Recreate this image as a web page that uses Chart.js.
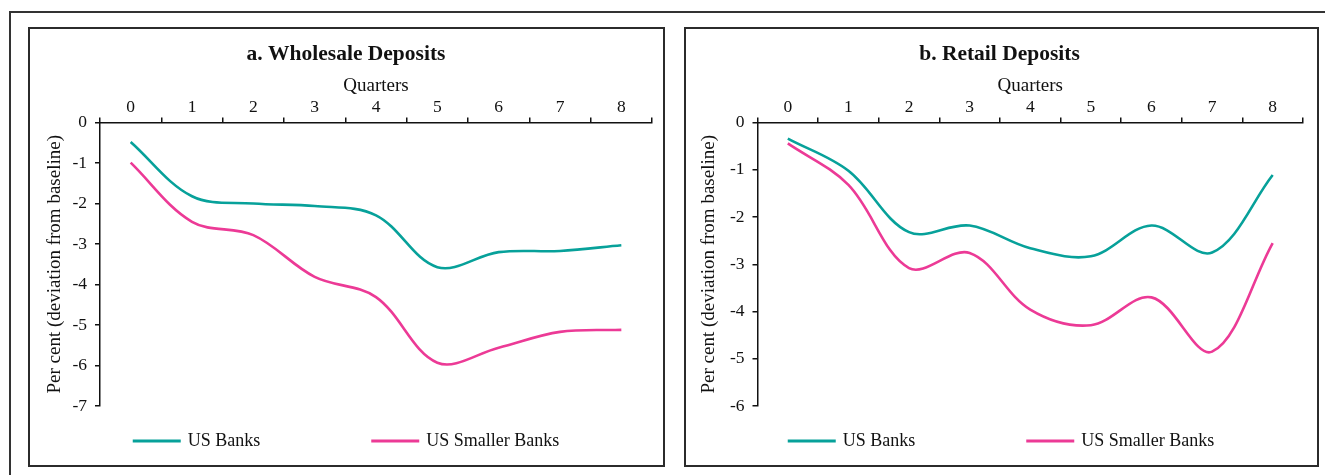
<!DOCTYPE html>
<html>
<head>
<meta charset="utf-8">
<script src="https://cdn.jsdelivr.net/npm/chart.js@4/dist/chart.umd.min.js"></script>
<style>
  html, body { margin: 0; padding: 0; background: #fff; }
  body { width: 1325px; height: 475px; position: relative; overflow: hidden; }
  .frame { position: absolute; left: 9px; top: 11px; width: 1400px; height: 520px; border: 2px solid #333; box-sizing: border-box; }
  .panel { position: absolute; border: 2px solid #2b2b2b; box-sizing: border-box; background: #fff; }
  canvas { position: absolute; }
</style>
</head>
<body>
<div class="frame"></div>
<div class="panel" style="left:28px; top:27px; width:637px; height:440px;"></div>
<div class="panel" style="left:684px; top:27px; width:635px; height:440px;"></div>
<canvas id="wholesale" width="632" height="436" style="left:30px; top:29px;"></canvas>
<canvas id="retail" width="630" height="436" style="left:686px; top:29px;"></canvas>
<script>
// Quarters after the shock
const quarters = ['0', '1', '2', '3', '4', '5', '6', '7', '8'];
const seriesNames = ['US Banks', 'US Smaller Banks'];

// a. Wholesale deposits, per cent deviation from baseline
const wholesaleUSBanks = [-0.48, -1.82, -2.0, -2.06, -2.29, -3.57, -3.2, -3.17, -3.03];
const wholesaleSmallerBanks = [-0.99, -2.45, -2.78, -3.81, -4.31, -5.93, -5.56, -5.17, -5.12];

// b. Retail deposits, per cent deviation from baseline
const retailUSBanks = [-0.34, -1.02, -2.32, -2.18, -2.66, -2.83, -2.18, -2.75, -1.11];
const retailSmallerBanks = [-0.44, -1.32, -3.08, -2.76, -3.96, -4.29, -3.70, -4.85, -2.55];

const FONT = '"Liberation Serif", "Times New Roman", serif';
const INK = '#111';
const TEAL = '#07a19a';
const PINK = '#ec3a96';

// Legend drawn under the plot: line swatch + label, items centred on the canvas
const lineLegend = {
  id: 'lineLegend',
  afterDraw(chart, args, opts) {
    const ctx = chart.ctx;
    const sets = chart.data.datasets;
    const swatch = 48, gapText = 7, gapItem = 111;
    ctx.save();
    ctx.font = '18px ' + FONT;
    const widths = sets.map(d => swatch + gapText + ctx.measureText(d.label).width);
    const total = widths.reduce((a, b) => a + b, 0) + gapItem * (sets.length - 1);
    let x = (chart.width - total) / 2;
    const y = opts.y;
    sets.forEach((d, i) => {
      ctx.strokeStyle = d.borderColor;
      ctx.lineWidth = 3;
      ctx.beginPath();
      ctx.moveTo(x, y);
      ctx.lineTo(x + swatch, y);
      ctx.stroke();
      ctx.fillStyle = INK;
      ctx.textAlign = 'left';
      ctx.textBaseline = 'middle';
      ctx.fillText(d.label, x + swatch + gapText, y);
      x += widths[i] + gapItem;
    });
    ctx.restore();
  }
};

function makePanel(id, title, usData, smallData, yMin, g) {
  const axisGrid = { drawOnChartArea: false, drawTicks: true, tickLength: 5, color: INK, lineWidth: 1.5 };
  const axisBorder = { display: true, color: INK, width: 1.5 };
  return new Chart(document.getElementById(id), {
    type: 'line',
    data: {
      labels: quarters,
      datasets: [
        { label: seriesNames[0], data: usData, borderColor: TEAL, backgroundColor: TEAL },
        { label: seriesNames[1], data: smallData, borderColor: PINK, backgroundColor: PINK }
      ]
    },
    options: {
      responsive: false,
      animation: false,
      layout: { padding: { left: g.padL, right: g.padR, top: 0, bottom: 59 } },
      elements: {
        point: { radius: 0 },
        line: { tension: 0.35, borderWidth: 2.6, fill: false }
      },
      plugins: {
        legend: { display: false },
        tooltip: { enabled: false },
        title: {
          display: true,
          text: title,
          color: INK,
          font: { family: FONT, size: 21.5, weight: 'bold' },
          padding: { top: 13, bottom: 3 }
        },
        lineLegend: { y: 412 }
      },
      scales: {
        x: {
          type: 'category',
          position: 'top',
          offset: true,
          grid: Object.assign({ offset: true }, axisGrid),
          border: axisBorder,
          ticks: { padding: 0, color: INK, font: { family: FONT, size: 17.5 }, maxRotation: 0, autoSkip: false },
          title: { display: true, text: 'Quarters', color: INK, font: { family: FONT, size: 19 }, padding: { top: 4, bottom: 0 } },
          afterFit: s => { s.height = 51.8; }
        },
        y: {
          min: yMin,
          max: 0,
          grid: axisGrid,
          border: axisBorder,
          ticks: { stepSize: 1, padding: 8, color: INK, font: { family: FONT, size: 17.5 } },
          title: {
            display: true,
            text: 'Per cent (deviation from baseline)',
            color: INK,
            font: { family: FONT, size: 19 },
            padding: { top: g.yTitlePad, bottom: 0 }
          },
          afterFit: s => { s.width = g.yWidth; }
        }
      }
    },
    plugins: [lineLegend]
  });
}

makePanel('wholesale', 'a. Wholesale Deposits', wholesaleUSBanks, wholesaleSmallerBanks, -7,
  { padL: 10, padR: 10, yWidth: 60, yTitlePad: 4 });
makePanel('retail', 'b. Retail Deposits', retailUSBanks, retailSmallerBanks, -6,
  { padL: 10, padR: 13, yWidth: 61.5, yTitlePad: 2 });
</script>
</body>
</html>
